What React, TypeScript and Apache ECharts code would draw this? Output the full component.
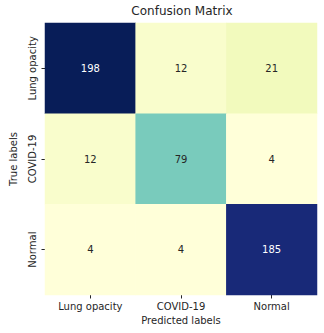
import React, { useEffect, useRef } from "react";
import * as echarts from "echarts";

const predictedLabels = ["Lung opacity", "COVID-19", "Normal"];
const trueLabels = ["Lung opacity", "COVID-19", "Normal"];
// rows = true label, columns = predicted label
const matrix: number[][] = [
  [198, 12, 21],
  [12, 79, 4],
  [4, 4, 185],
];
const ylgnbu = ["#ffffd9", "#edf8b1", "#c7e9b4", "#7fcdbb", "#41b6c4", "#1d91c0", "#225ea8", "#253494", "#081d58"];

export default function App() {
  const ref = useRef<HTMLDivElement>(null);
  useEffect(() => {
    if (!ref.current) return;
    const chart = echarts.init(ref.current, undefined, { renderer: "svg" });
    const values = matrix.flat();
    const vmin = Math.min(...values);
    const vmax = Math.max(...values);
    const data: any[] = [];
    matrix.forEach((row, r) =>
      row.forEach((v, c) => {
        const frac = (v - vmin) / (vmax - vmin);
        data.push({
          value: [c, r, v],
          label: { color: frac > 0.5 ? "#ffffff" : "#262626" },
        });
      })
    );
    const font = "DejaVu Sans";
    chart.setOption({
      animation: false,
      textStyle: { fontFamily: font },
      title: {
        text: "Confusion Matrix",
        left: 177,
        textAlign: "center",
        top: 0,
        textStyle: { fontFamily: font, fontSize: 12, fontWeight: "normal", color: "#262626" },
      },
      grid: { left: 38, right: 7, top: 23, bottom: 38 },
      xAxis: {
        type: "category",
        data: predictedLabels,
        name: "Predicted labels",
        nameLocation: "middle",
        nameGap: 20,
        nameTextStyle: { fontFamily: font, fontSize: 10, color: "#262626" },
        axisLine: { show: false },
        axisTick: { show: true, alignWithLabel: true, length: 3.5, lineStyle: { color: "#262626" } },
        axisLabel: { fontFamily: font, fontSize: 10, color: "#262626", margin: 6 },
        splitArea: { show: false },
      },
      yAxis: {
        type: "category",
        data: trueLabels,
        inverse: true,
        name: "True labels",
        nameLocation: "middle",
        nameGap: 27,
        nameRotate: 90,
        nameTextStyle: { fontFamily: font, fontSize: 10, color: "#262626" },
        axisLine: { show: false },
        axisTick: { show: true, alignWithLabel: true, length: 3.5, lineStyle: { color: "#262626" } },
        axisLabel: { fontFamily: font, fontSize: 10, color: "#262626", rotate: 90, margin: 8 },
        splitArea: { show: false },
      },
      visualMap: {
        show: false,
        min: vmin,
        max: vmax,
        dimension: 2,
        inRange: { color: ylgnbu },
      },
      series: [
        {
          type: "heatmap",
          data,
          label: { show: true, fontFamily: font, fontSize: 10 },
          itemStyle: { borderWidth: 0 },
          emphasis: { disabled: true },
        },
      ],
    });
    return () => chart.dispose();
  }, []);
  return (
    <div
      ref={ref}
      style={{ position: "absolute", left: 0, top: 0, width: 324, height: 333, background: "#ffffff" }}
    />
  );
}
